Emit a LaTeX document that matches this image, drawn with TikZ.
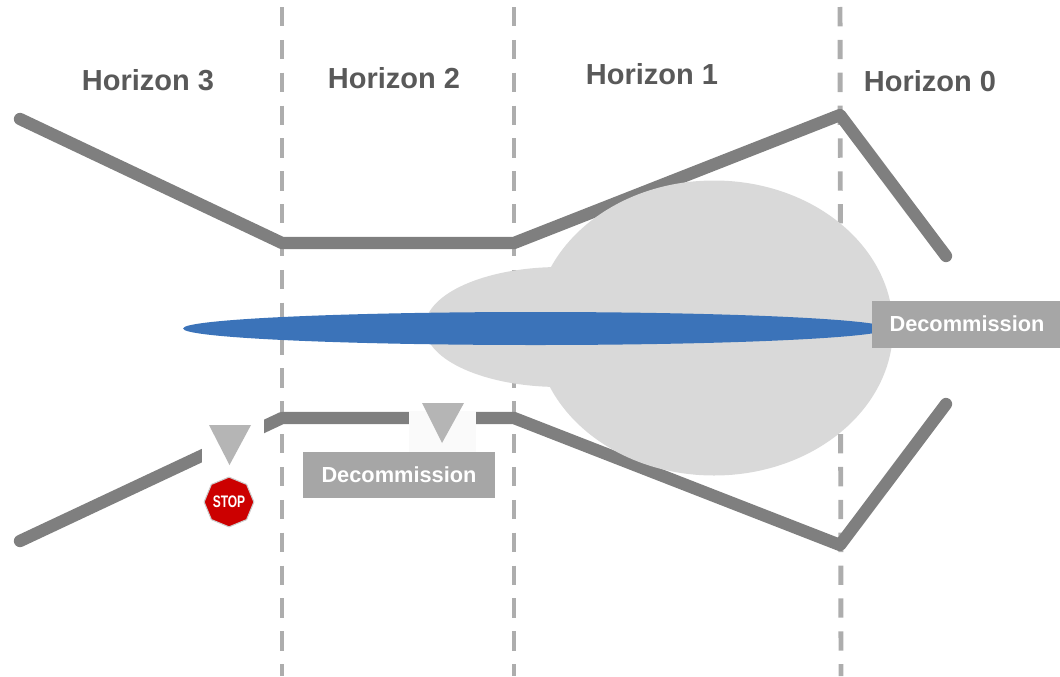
\documentclass[tikz,border=0pt]{standalone}
\usepackage{fontspec}
\setmainfont{Liberation Sans}
\usepackage{graphicx}
\usetikzlibrary{shapes.geometric}
\definecolor{railgray}{HTML}{7F7F7F}
\definecolor{dashgray}{HTML}{ADADAD}
\definecolor{blobgray}{HTML}{D9D9D9}
\definecolor{boxgray}{HTML}{A6A6A6}
\definecolor{markgray}{HTML}{B5B5B5}
\definecolor{textgray}{HTML}{595959}
\definecolor{flowblue}{HTML}{3B73B9}
\definecolor{stopred}{HTML}{CC0000}
\tikzset{
  rail/.style={draw=railgray,line width=7pt,line cap=round,line join=round},
  divider/.style={draw=dashgray,line width=2.8pt,dash pattern=on 11pt off 7.7pt},
  horizon/.style={font=\fontsize{16.5}{18}\selectfont\bfseries,text=textgray,inner sep=0pt},
  decom/.style={fill=boxgray,text=white,font=\fontsize{12.4}{14}\selectfont\bfseries,inner sep=0pt},
  marker/.style={fill=markgray}
}
\begin{document}
\begin{tikzpicture}[x=0.02cm,y=-0.02cm]
  \useasboundingbox (0,0) rectangle (1060,676);
  \draw[divider] (282,7)--(282,676);
  \draw[divider] (514,7)--(514,676);
  \draw[divider] (840,7)--(841,676);

  \draw[rail] (20,119)--(282,243)--(514,243)--(840,115)--(946,256);
  \draw[rail] (20,541)--(282,418)--(514,418)--(840,545)--(946,404);

  \fill[blobgray] (560,327) ellipse (135 and 60);
  \fill[blobgray] (714,328) ellipse (179 and 147.5);
  \fill[flowblue] (535.5,328.5) ellipse (352.5 and 16.5);

  \node[horizon] (h3) at (148,80) {Horizon 3};
  \node[horizon] (h2) at (394,78) {Horizon 2};
  \node[horizon] (h1) at (652,74) {Horizon 1};
  \node[horizon] (h0) at (930,81) {Horizon 0};

  % patches behind the markers
  \fill[white] (202,402) rectangle (264,470);
  \fill[black!2] (409,411) rectangle (476,452);
  \fill[marker] (209,425)--(251,425)--(229.5,465)--cycle;
  \fill[marker] (422,403)--(464,403)--(442,443)--cycle;

  \node[decom,minimum width=192\pgflinewidth*0+108.8pt,minimum height=26.1pt] (low) at (399,475) {Decommission};
  \fill[boxgray] (872,301) rectangle (1060,348);
  \node[decom,fill=none] (high) at (967,324) {Decommission};

  \node[regular polygon,regular polygon sides=8,shape border rotate=22.5,draw=black!20,line width=0.6pt,
    fill=stopred,text=white,minimum size=27.5pt,inner sep=0pt,
    font=\fontsize{9.5}{10}\selectfont\bfseries] (stop) at (229,502) {\scalebox{0.72}[1]{STOP}};
\end{tikzpicture}
\end{document}
